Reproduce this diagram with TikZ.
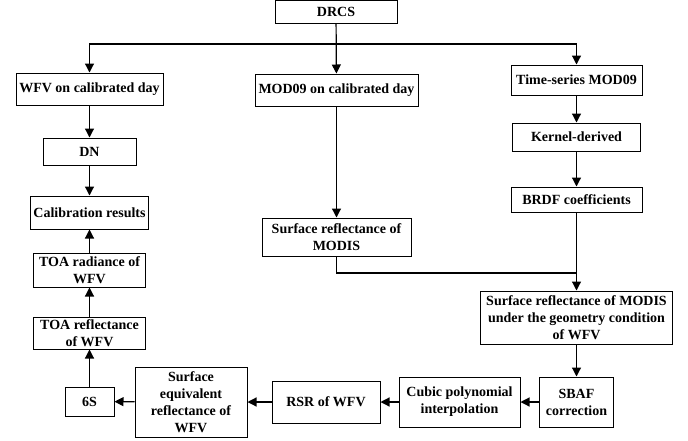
\documentclass[tikz,border=0pt]{standalone}
\usepackage{fontspec}
\setmainfont{Liberation Serif}
\usepackage{xcolor}
\usepackage{tikz}
\usetikzlibrary{positioning,arrows.meta}

\begin{document}
\begin{tikzpicture}[x=1pt,y=-1pt,
        box/.style={rectangle,draw,line width=1pt,align=center,inner sep=1pt,
            font=\fontsize{14}{17}\selectfont\bfseries},
        arrow/.style={-{Triangle[length=9pt,width=9pt]},line width=1.2pt}]
        \useasboundingbox (0,0) rectangle (688,440);
        \node[box,minimum width=122pt,minimum height=23pt] (drcs) at (336,11.5) {DRCS};
        \node[box,minimum width=147pt,minimum height=32pt] (wfv) at (89.5,89) {WFV on calibrated day};
        \node[box,minimum width=163pt,minimum height=32pt] (mod) at (336.5,90) {MOD09 on calibrated day};
        \node[box,minimum width=131pt,minimum height=30pt] (ts) at (576.5,80) {Time-series MOD09};
        \node[box,minimum width=128pt,minimum height=28pt] (kern) at (576.5,137) {Kernel-derived};
        \node[box,minimum width=131pt,minimum height=25pt] (brdf) at (576.5,199.5) {BRDF coefficients};
        \node[box,minimum width=93pt,minimum height=27pt] (dn) at (89.5,151.5) {DN};
        \node[box,minimum width=118pt,minimum height=33pt] (calib) at (89.5,212.5) {Calibration results};
        \node[box,minimum width=149pt,minimum height=38pt] (srm) at (336.5,237) {Surface reflectance of\\MODIS};
        \node[box,minimum width=112pt,minimum height=34pt] (toarad) at (89.5,270) {TOA radiance of\\WFV};
        \node[box,minimum width=112pt,minimum height=32pt] (toaref) at (89.5,333) {TOA reflectance\\of WFV};
        \node[box,minimum width=192pt,minimum height=53pt] (geo) at (576.5,317.5) {Surface reflectance of MODIS\\under the geometry condition\\of WFV};
        \node[box,minimum width=74pt,minimum height=50pt] (sbaf) at (576.5,402) {SBAF\\correction};
        \node[box,minimum width=121pt,minimum height=50pt] (cubic) at (459.5,402) {Cubic polynomial\\interpolation};
        \node[box,minimum width=108pt,minimum height=42pt] (rsr) at (326,402) {RSR of WFV};
        \node[box,minimum width=112pt,minimum height=70pt] (sew) at (191,402) {Surface\\equivalent\\reflectance of\\WFV};
        \node[box,minimum width=49pt,minimum height=29pt] (six) at (89.5,401.5) {6S};
        \coordinate (split) at (336,44);
        \coordinate (join) at (576.5,273);
        \draw[arrow] (drcs) -- (mod);
        \draw[arrow] (split) -| (wfv);
        \draw[arrow] (split) -| (ts);
        \draw[arrow] (wfv) -- (dn);
        \draw[arrow] (dn) -- (calib);
        \draw[arrow] (ts) -- (kern);
        \draw[arrow] (kern) -- (brdf);
        \draw[arrow] (mod) -- (srm);
        \draw[line width=1.2pt] (srm) |- (join);
        \draw[arrow] (brdf) -- (geo);
        \draw[arrow] (geo) -- (sbaf);
        \draw[arrow] (sbaf) -- (cubic);
        \draw[arrow] (cubic) -- (rsr);
        \draw[arrow] (rsr) -- (sew);
        \draw[arrow] (sew) -- (six);
        \draw[arrow] (six) -- (toaref);
        \draw[arrow] (toaref) -- (toarad);
        \draw[arrow] (toarad) -- (calib);
    \end{tikzpicture}
\end{document}
